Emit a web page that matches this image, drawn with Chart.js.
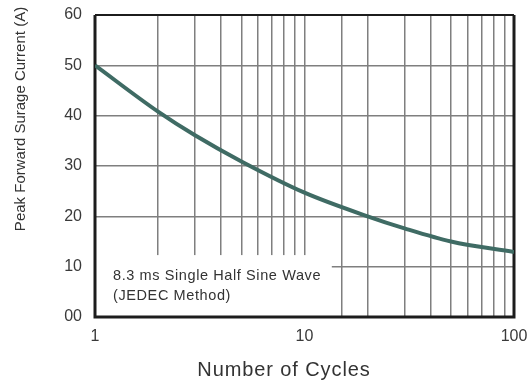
<!DOCTYPE html>
<html><head><meta charset="utf-8">
<script src="https://cdn.jsdelivr.net/npm/chart.js@4/dist/chart.umd.min.js"></script>
<style>html,body{margin:0;padding:0;background:#fff}#wrap{width:528px;height:386px}</style>
</head><body><div id="wrap"><canvas id="c" width="528" height="386"></canvas></div>
<script>
const cycles  = [1, 2, 3, 5, 10, 20, 30, 50, 100];
const current = [50, 40.8, 36.1, 30.9, 24.7, 20, 17.6, 15.0, 12.9];
const xTickLabels = [1, 10, 100];
const yTickLabels = {0: '00', 10: '10', 20: '20', 30: '30', 40: '40', 50: '50', 60: '60'};
const xTitle = 'Number of Cycles';
const yTitle = 'Peak Forward Surage Current (A)';
const noteLines = ['8.3 ms Single Half Sine Wave', '(JEDEC Method)'];
const noteBoxX = [1, 13.5];
const noteBoxY = [0, 12.3];

const deco = {
  id: 'deco',
  beforeDatasetsDraw(chart) {
    const {ctx, chartArea: a, scales: {x, y}} = chart;
    ctx.save();
    const x0 = x.getPixelForValue(noteBoxX[0]), x1 = x.getPixelForValue(noteBoxX[1]);
    const y0 = y.getPixelForValue(noteBoxY[1]), y1 = y.getPixelForValue(noteBoxY[0]);
    ctx.fillStyle = '#fff';
    ctx.fillRect(x0, y0, x1 - x0, y1 - y0);
    ctx.strokeStyle = '#1c1c1c';
    ctx.lineWidth = 2;
    ctx.beginPath(); ctx.moveTo(a.left, a.top); ctx.lineTo(a.right, a.top); ctx.stroke();
    ctx.lineWidth = 3;
    ctx.beginPath(); ctx.moveTo(a.left, a.top); ctx.lineTo(a.left, a.bottom); ctx.lineTo(a.right, a.bottom); ctx.lineTo(a.right, a.top); ctx.stroke();
    ctx.restore();
  },
  afterDraw(chart) {
    const {ctx, chartArea: a} = chart;
    ctx.save();
    ctx.fillStyle = '#333';
    ctx.textBaseline = 'middle';
    ctx.textAlign = 'left';
    ctx.font = '14.5px "Liberation Sans", Arial, sans-serif';
    ctx.letterSpacing = '0.6px';
    ctx.fillText(noteLines[0], a.left + 18, 276);
    ctx.fillText(noteLines[1], a.left + 18, 296);
    ctx.textAlign = 'center';
    ctx.font = '20px "Liberation Sans", Arial, sans-serif';
    ctx.letterSpacing = '0.9px';
    ctx.fillText(xTitle, 284, 370);
    ctx.letterSpacing = '0px';
    ctx.translate(21, 119);
    ctx.rotate(-Math.PI / 2);
    ctx.font = '15px "Liberation Sans", Arial, sans-serif';
    ctx.fillText(yTitle, 0, 0);
    ctx.restore();
  }
};

new Chart(document.getElementById('c'), {
  type: 'line',
  data: {
    datasets: [{
      data: cycles.map((c, i) => ({x: c, y: current[i]})),
      borderColor: '#3f6b64',
      borderWidth: 4,
      pointRadius: 0,
      fill: false,
      cubicInterpolationMode: 'monotone'
    }]
  },
  options: {
    responsive: false,
    animation: false,
    devicePixelRatio: 1,
    layout: {padding: {left: 0, top: 15, right: 14, bottom: 0}},
    plugins: {legend: {display: false}, tooltip: {enabled: false}},
    scales: {
      x: {
        type: 'logarithmic', min: 1, max: 100,
        afterFit(s) { s.height = 69; s.paddingLeft = 0; s.paddingRight = 0; },
        grid: {color: '#7f7f7f', lineWidth: 1.5, drawTicks: false},
        border: {display: false},
        ticks: {
          autoSkip: false, maxRotation: 0, padding: 10,
          color: '#3a3a3a', font: {size: 16, family: '"Liberation Sans", Arial, sans-serif'},
          callback: v => xTickLabels.includes(v) ? String(v) : ''
        }
      },
      y: {
        min: 0, max: 60,
        afterFit(s) { s.width = 95; s.paddingTop = 0; s.paddingBottom = 0; },
        grid: {color: '#7f7f7f', lineWidth: 1.5, drawTicks: false},
        border: {display: false},
        ticks: {
          stepSize: 10, padding: 13,
          color: '#3a3a3a', font: {size: 16, family: '"Liberation Sans", Arial, sans-serif'},
          callback: v => yTickLabels[v] !== undefined ? yTickLabels[v] : ''
        }
      }
    }
  },
  plugins: [deco]
});
</script></body></html>
